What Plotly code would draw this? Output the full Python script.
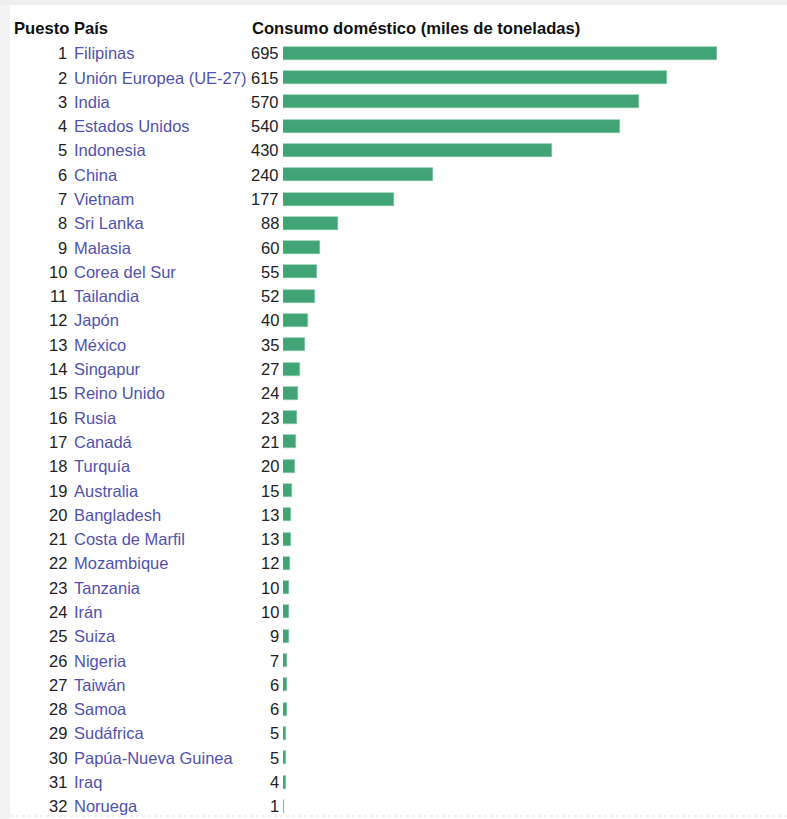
import plotly.graph_objects as go

ranks = list(range(1, 33))
countries = ["Filipinas", "Unión Europea (UE-27)", "India", "Estados Unidos", "Indonesia",
             "China", "Vietnam", "Sri Lanka", "Malasia", "Corea del Sur", "Tailandia",
             "Japón", "México", "Singapur", "Reino Unido", "Rusia", "Canadá", "Turquía",
             "Australia", "Bangladesh", "Costa de Marfil", "Mozambique", "Tanzania", "Irán",
             "Suiza", "Nigeria", "Taiwán", "Samoa", "Sudáfrica", "Papúa-Nueva Guinea",
             "Iraq", "Noruega"]
values = [695, 615, 570, 540, 430, 240, 177, 88, 60, 55, 52, 40, 35, 27, 24, 23, 21, 20,
          15, 13, 13, 12, 10, 10, 9, 7, 6, 6, 5, 5, 4, 1]
header_rank = "Puesto"
header_country = "País"
header_value = "Consumo doméstico (miles de toneladas)"

W, H = 787, 819
row0, step = 53.3, 24.29
y_top = 1 - row0 / step
y_bot = 1 + (H - row0) / step

FONT = "Liberation Sans, Arial, sans-serif"
TXT = "#222222"
LINK = "#5252ae"
GREEN = "#40a477"
FS = 16.5

fig = go.Figure()
fig.add_trace(go.Bar(
    x=values, y=ranks, orientation="h", width=13 / step,
    marker=dict(color=GREEN, line=dict(color="#7cc4a2", width=0.6)),
    hoverinfo="skip", showlegend=False,
))

ann = []
for r, c, v in zip(ranks, countries, values):
    ann.append(dict(x=68 / W, y=r, xref="paper", yref="y", text=str(r), showarrow=False,
                    xanchor="right", yanchor="middle", borderpad=0,
                    font=dict(family=FONT, size=FS, color=TXT)))
    ann.append(dict(x=73 / W, y=r, xref="paper", yref="y", text=c, showarrow=False,
                    xanchor="left", yanchor="middle", borderpad=0,
                    font=dict(family=FONT, size=FS, color=LINK)))
    ann.append(dict(x=279.5 / W, y=r, xref="paper", yref="y", text=str(v), showarrow=False,
                    xanchor="right", yanchor="middle", borderpad=0,
                    font=dict(family=FONT, size=FS, color=TXT)))

hy = 1 - 28.5 / H
ann.append(dict(x=12.5 / W, y=hy, xref="paper", yref="paper", text="<b>%s %s</b>" % (header_rank, header_country),
                showarrow=False, xanchor="left", yanchor="middle", borderpad=0,
                font=dict(family=FONT, size=16.6, color="#111111")))
ann.append(dict(x=250.5 / W, y=hy, xref="paper", yref="paper", text="<b>%s</b>" % header_value,
                showarrow=False, xanchor="left", yanchor="middle", borderpad=0,
                font=dict(family=FONT, size=16.6, color="#111111")))

shapes = [
    dict(type="rect", xref="paper", yref="paper", x0=0, x1=1, y0=1 - 5 / H, y1=1,
         fillcolor="#eeeeee", line=dict(width=0), layer="below"),
    dict(type="rect", xref="paper", yref="paper", x0=0, x1=10 / W, y0=0, y1=1 - 5 / H,
         fillcolor="#f3f3f3", line=dict(width=0), layer="below"),
    dict(type="line", xref="paper", yref="paper", x0=10 / W, x1=1, y0=3 / H, y1=3 / H,
         line=dict(color="#e6e6e6", width=1, dash="dot")),
]

fig.update_layout(
    width=W, height=H, margin=dict(l=0, r=0, t=0, b=0),
    paper_bgcolor="white", plot_bgcolor="white",
    xaxis=dict(domain=[283 / W, 717 / W], range=[0, 695], visible=False, fixedrange=True),
    yaxis=dict(domain=[0, 1], range=[y_bot, y_top], visible=False, fixedrange=True),
    annotations=ann, shapes=shapes, bargap=0,
)

fig.write_html("out.html")
